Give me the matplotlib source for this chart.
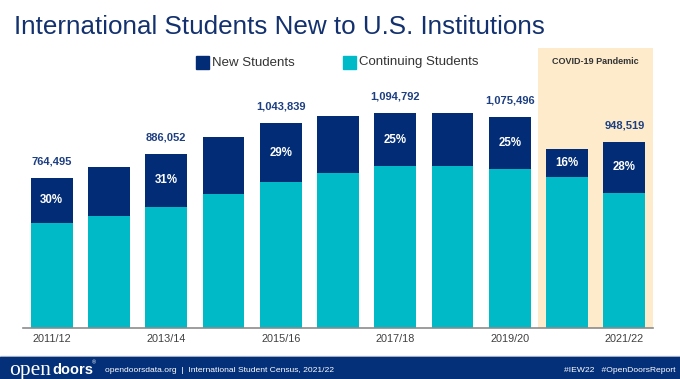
import matplotlib
matplotlib.use("Agg")
import matplotlib.pyplot as plt
from matplotlib.patches import Rectangle

plt.rcParams['font.family'] = ['Liberation Sans', 'DejaVu Sans']

years = ['2011/12', '2012/13', '2013/14', '2014/15', '2015/16', '2016/17',
         '2017/18', '2018/19', '2019/20', '2020/21', '2021/22']
totals = [764495, 819644, 886052, 974926, 1043839, 1078822,
          1094792, 1095299, 1075496, 914095, 948519]
new = [228467, 250920, 270128, 293766, 300743, 290836,
       271738, 269383, 267712, 145528, 261961]
pct_labels = ['30%', '', '31%', '', '29%', '', '25%', '', '25%', '16%', '28%']
total_shown = [True, False, True, False, True, False, True, False, True, False, True]
tick_shown = [True, False, True, False, True, False, True, False, True, False, True]

continuing = [t - n for t, n in zip(totals, new)]

NAVY = '#022d76'
CYAN = '#00bac8'
SHADE = '#fdebcc'
LABEL = '#1d3f82'

fig = plt.figure(figsize=(6.8, 3.79), dpi=100)
ax = fig.add_axes([23 / 680, 1 - 327.5 / 379, 630 / 680, 279.5 / 379])

x = list(range(len(years)))
ax.axvspan(8.5, 10.5, color=SHADE, zorder=0, lw=0)
ax.bar(x, continuing, width=0.73, color=CYAN, zorder=2, label='Continuing Students')
ax.bar(x, new, bottom=continuing, width=0.73, color=NAVY, zorder=2, label='New Students')

for i in x:
    if total_shown[i]:
        ax.annotate(f'{totals[i]:,}', (i, totals[i]), xytext=(0, 12), textcoords='offset points',
                    ha='center', va='center', fontsize=8, fontweight='bold', color=LABEL)
    if pct_labels[i]:
        ax.text(i, continuing[i] + new[i] / 2, pct_labels[i], ha='center', va='center',
                fontsize=8.3, fontweight='bold', color='white', zorder=3)

ax.set_xlim(-0.5, 10.5)
ax.set_ylim(0, 1427500)
ax.set_xticks(x)
ax.set_xticklabels([y if s else '' for y, s in zip(years, tick_shown)], fontsize=7.8, color='#404040')
ax.tick_params(axis='x', length=0, pad=5)
ax.set_yticks([])
for s in ['top', 'right', 'left']:
    ax.spines[s].set_visible(False)
ax.spines['bottom'].set_color('#8c8c8c')
ax.spines['bottom'].set_linewidth(1.2)
ax.spines['bottom'].set_zorder(4)

ax.text(9.5, 1 - 13 / 279.5, 'COVID-19 Pandemic', transform=ax.get_xaxis_transform(),
        ha='center', va='center', fontsize=6.5, fontweight='bold', color='#333333')

# legend drawn by hand to match the layout
fig.patches.append(Rectangle((196 / 680, 1 - 69 / 379), 13 / 680, 13 / 379,
                             transform=fig.transFigure, color=NAVY))
fig.text(212 / 680, 1 - 62.5 / 379, 'New Students', fontsize=9.5, color='#333333', va='center')
fig.patches.append(Rectangle((343 / 680, 1 - 69 / 379), 13 / 680, 13 / 379,
                             transform=fig.transFigure, color=CYAN))
fig.text(359 / 680, 1 - 62.5 / 379, 'Continuing Students', fontsize=9.5, color='#333333', va='center')

fig.text(14 / 680, 1 - 27 / 379, 'International Students New to U.S. Institutions',
         fontsize=18.7, color='#13316e', va='center')

# footer band
fig.patches.append(Rectangle((0, 1 - 357 / 379), 1, 1.5 / 379, transform=fig.transFigure,
                             color='#c8ccd6'))
fig.patches.append(Rectangle((0, 0), 1, 22 / 379, transform=fig.transFigure, color='#04307a'))
fy = 9 / 379
fig.text(9 / 680, fy, 'open', fontsize=15.5, color='white', va='center',
         family='Liberation Serif')
fig.text(52 / 680, fy, 'doors', fontsize=10.5, color='white', va='center', fontweight='bold')
fig.text(92 / 680, fy + 7 / 379, '®', fontsize=4, color='white', va='center')
fig.text(105 / 680, fy, 'opendoorsdata.org  |  International Student Census, 2021/22',
         fontsize=6.1, color='white', va='center')
fig.text(676 / 680, fy, '#IEW22   #OpenDoorsReport', fontsize=6.1, color='white',
         va='center', ha='right')

fig.savefig('out.png', dpi=100)
